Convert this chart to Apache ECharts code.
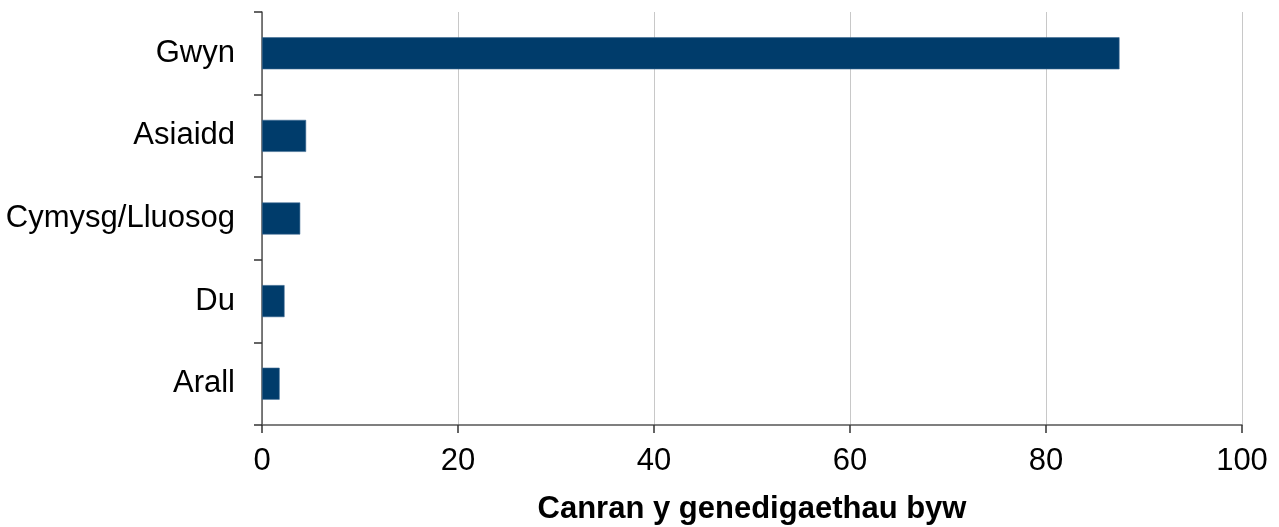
<!DOCTYPE html>
<html lang="cy">

<head>
  <meta charset="UTF-8">
  <title>Canran y genedigaethau byw</title>
  <style>
    html, body { margin: 0; padding: 0; background: #fff; }
    #chart { width: 1279px; height: 527px; }
  </style>
</head>

<body>
  <div id="chart"></div>
  <script src="https://cdn.jsdelivr.net/npm/echarts@6/dist/echarts.min.js"></script>
  <script>
    // categories, top to bottom as drawn
    const categories = ['Gwyn', 'Asiaidd', 'Cymysg/Lluosog', 'Du', 'Arall'];
    const values = [87.5, 4.5, 3.9, 2.3, 1.8];
    const xTicks = [0, 20, 40, 60, 80, 100];

    const chart = echarts.init(document.getElementById('chart'));

    chart.setOption({
      animation: false,
      textStyle: { fontFamily: 'Liberation Sans, Arial, sans-serif' },
      grid: {
        left: 262, right: 37, top: 12, bottom: 102,
        containLabel: false, outerBoundsMode: 'none'
      },
      xAxis: {
        type: 'value',
        min: xTicks[0],
        max: xTicks[xTicks.length - 1],
        interval: 20,
        name: 'Canran y genedigaethau byw',
        nameLocation: 'middle',
        nameGap: 69,
        nameTextStyle: { fontSize: 31, fontWeight: 'bold', color: '#000' },
        axisLine: { show: true, lineStyle: { color: '#555', width: 1.5 } },
        axisTick: { show: true, length: 8, lineStyle: { color: '#333', width: 1.5 } },
        axisLabel: { fontSize: 31, color: '#000', margin: 21 },
        splitLine: { show: true, lineStyle: { color: '#c8c8c8', width: 1 } }
      },
      yAxis: {
        type: 'category',
        inverse: true,
        data: categories,
        axisLine: { show: true, lineStyle: { color: '#555', width: 1.5 } },
        axisTick: { show: true, length: 8, lineStyle: { color: '#333', width: 1.5 } },
        axisLabel: { fontSize: 31, color: '#000', margin: 27 },
        splitLine: { show: false }
      },
      series: [
        {
          type: 'bar',
          data: values,
          barWidth: 32,
          itemStyle: { color: '#003c6b', borderColor: '#3d6a92', borderWidth: 0.6 }
        }
      ]
    });
  </script>
</body>

</html>
